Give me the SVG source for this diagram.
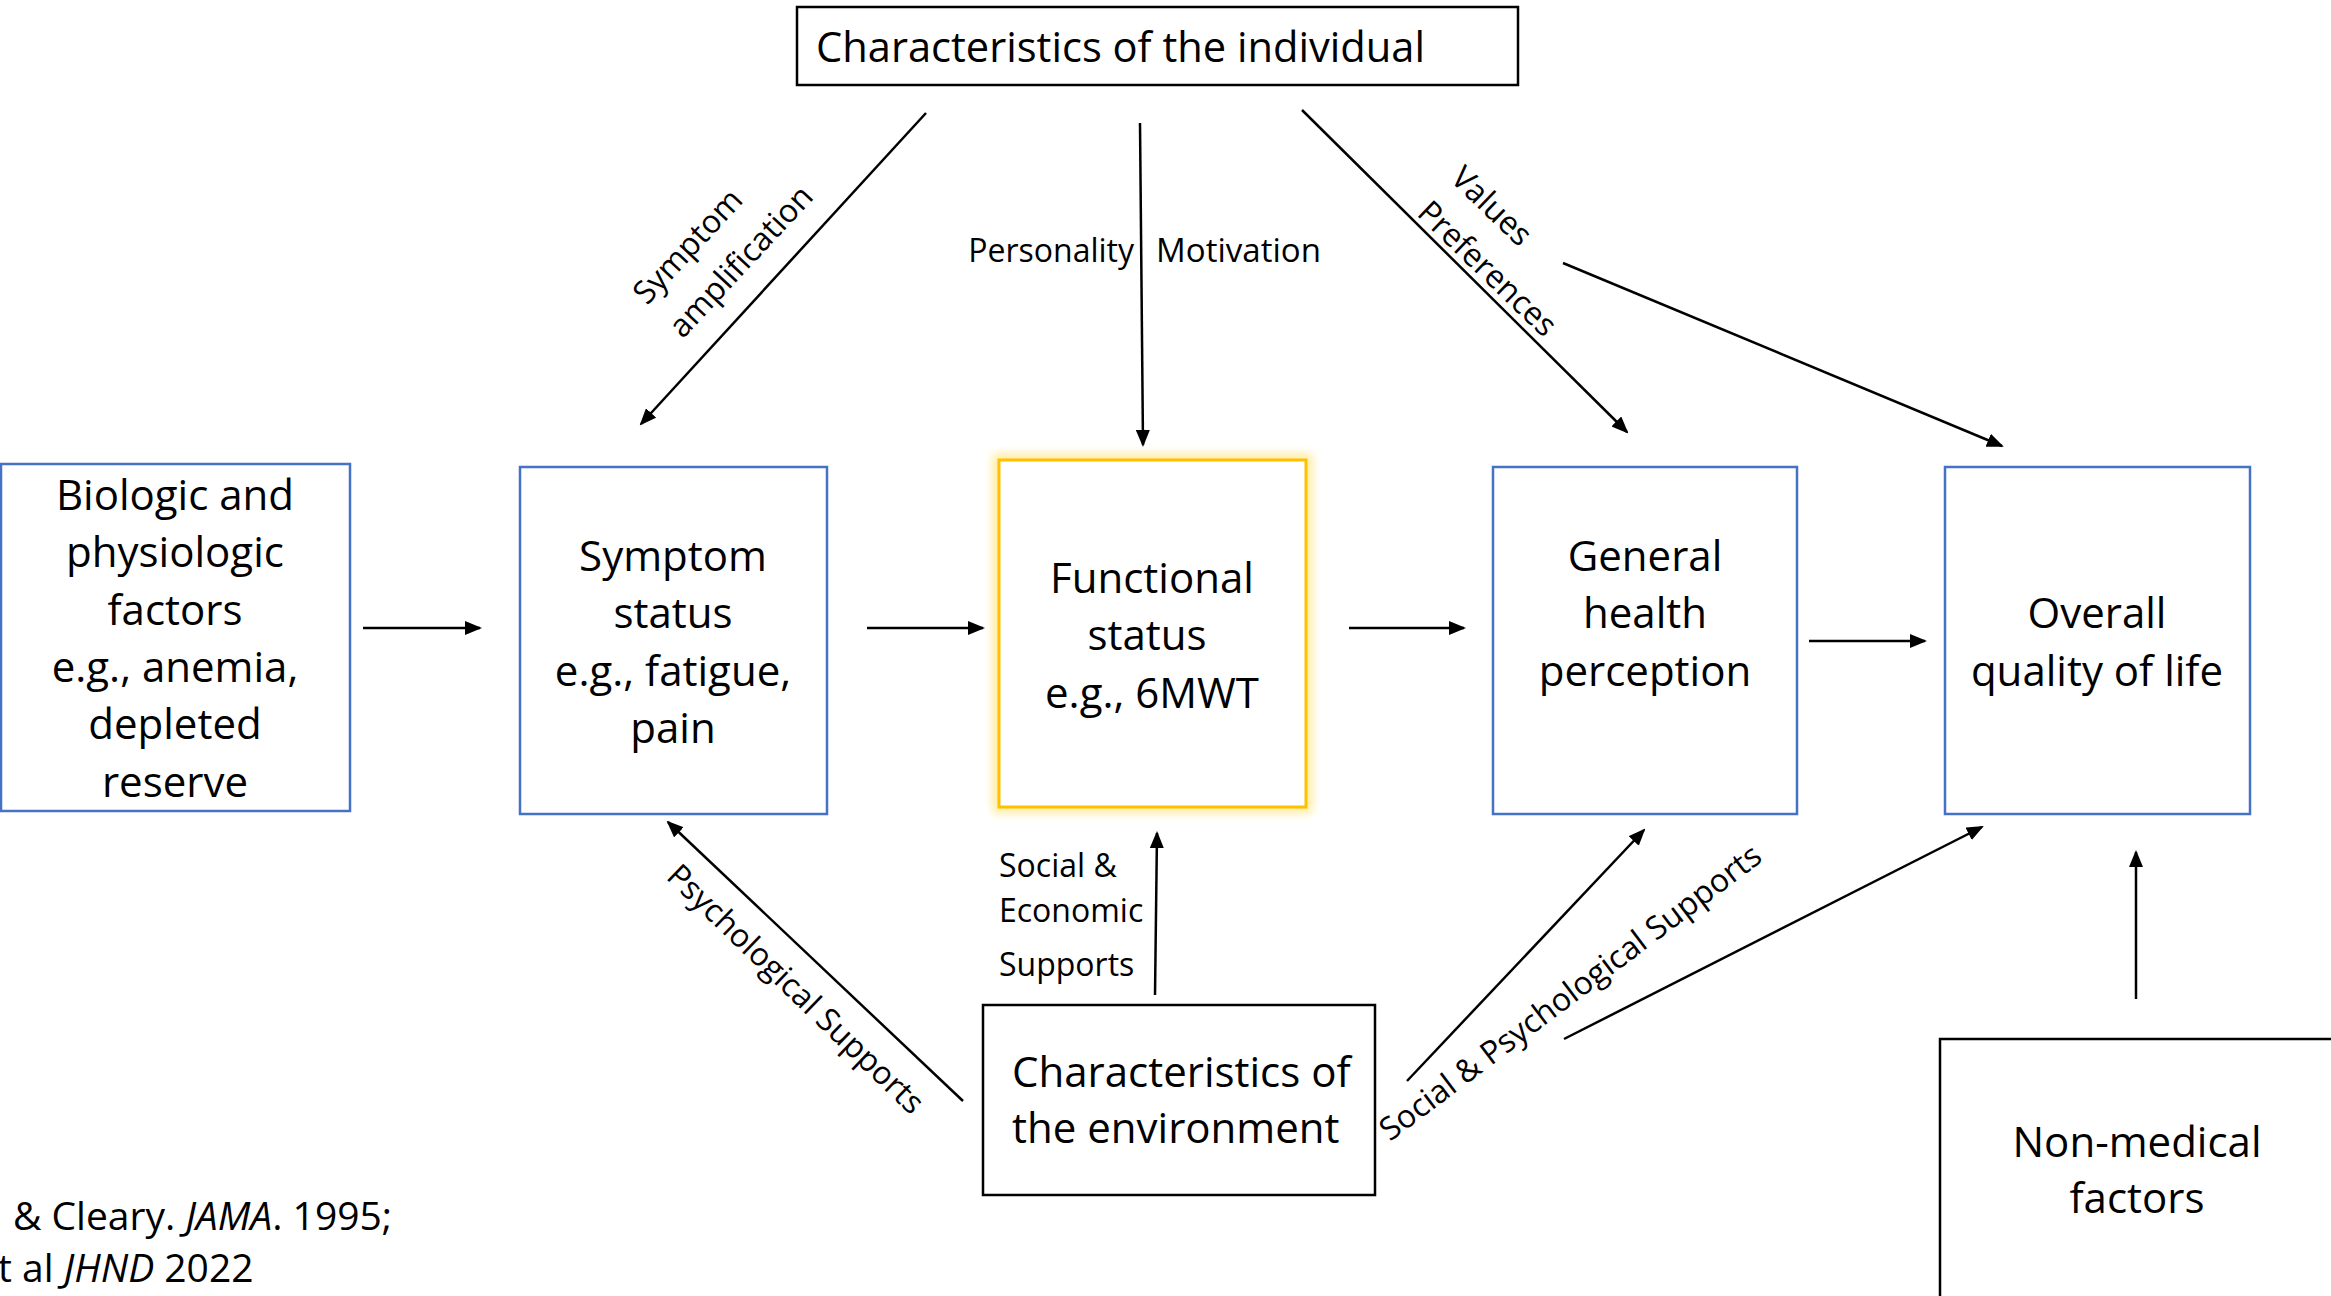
<svg xmlns="http://www.w3.org/2000/svg" width="2331" height="1296" viewBox="0 0 2331 1296">
  <style>
    text { font-family: "Open Sans", "Liberation Sans", sans-serif; fill: #000; }
    .box { font-size: 42px; }
    .lbl { font-size: 32px; }
    .cite { font-size: 39px; }
    .mid { text-anchor: middle; }
    .blue { fill: #fff; stroke: #4472C4; stroke-width: 2.5; }
    .plain { fill: #fff; stroke: #000; stroke-width: 2.5; }
    .gold { fill: #fff; stroke: #FFC000; stroke-width: 3; }
    .arrow { fill: none; stroke: #000; stroke-width: 2.5; marker-end: url(#head); }
  </style>
  <defs>
    <marker id="head" viewBox="0 0 17 14" refX="15" refY="7" markerWidth="17" markerHeight="14" markerUnits="userSpaceOnUse" orient="auto">
      <path d="M0,0 L17,7 L0,14 z" fill="#000"/>
    </marker>
    <filter id="glow" x="-10%" y="-10%" width="120%" height="120%">
      <feGaussianBlur stdDeviation="5"/>
    </filter>
  </defs>

  <rect width="2331" height="1296" fill="#fff"/>

  <!-- Connectors -->
  <g id="connectors">
    <line class="arrow" x1="363" y1="628" x2="480" y2="628"/>
    <line class="arrow" x1="867" y1="628" x2="983" y2="628"/>
    <line class="arrow" x1="1349" y1="628" x2="1464" y2="628"/>
    <line class="arrow" x1="1809" y1="641" x2="1925" y2="641"/>
    <line class="arrow" x1="926" y1="113" x2="641" y2="424"/>
    <line class="arrow" x1="1140" y1="123" x2="1143" y2="445"/>
    <line class="arrow" x1="1302" y1="110" x2="1627" y2="432"/>
    <line class="arrow" x1="1563" y1="263" x2="2002" y2="446"/>
    <line class="arrow" x1="963" y1="1101" x2="668" y2="822"/>
    <line class="arrow" x1="1155" y1="995" x2="1157" y2="833"/>
    <line class="arrow" x1="1407" y1="1081" x2="1644" y2="830"/>
    <line class="arrow" x1="1564" y1="1039" x2="1982" y2="827"/>
    <line class="arrow" x1="2136" y1="999" x2="2136" y2="852"/>

    <!-- connector labels -->
    <g transform="translate(647,306) rotate(-47)">
      <text class="lbl" x="0" y="0">Symptom</text>
      <text class="lbl" x="0" y="49">amplification</text>
    </g>
    <text class="lbl" x="1134" y="262" text-anchor="end">Personality</text>
    <text class="lbl" x="1156" y="262" textLength="165" lengthAdjust="spacingAndGlyphs">Motivation</text>
    <g transform="translate(1449,180) rotate(44)">
      <text class="lbl" x="0" y="0">Values</text>
      <text class="lbl" x="0" y="48">Preferences</text>
    </g>
    <text class="lbl" transform="translate(665,878) rotate(44)">Psychological Supports</text>
    <text class="lbl" x="999" y="877">Social &amp;</text>
    <text class="lbl" x="999" y="922">Economic</text>
    <text class="lbl" x="999" y="976">Supports</text>
    <text class="lbl" transform="translate(1390,1142) rotate(-37)">Social &amp; Psychological Supports</text>
  </g>

  <!-- Nodes -->
  <g id="individual">
    <rect class="plain" x="797" y="7" width="721" height="78"/>
    <text class="box" x="816" y="62" textLength="609" lengthAdjust="spacingAndGlyphs">Characteristics of the individual</text>
  </g>

  <g id="biologic">
    <rect class="blue" x="1" y="464" width="349" height="347"/>
    <text class="box mid" x="175" y="510">Biologic and</text>
    <text class="box mid" x="175" y="567">physiologic</text>
    <text class="box mid" x="175" y="625">factors</text>
    <text class="box mid" x="175" y="682">e.g., anemia,</text>
    <text class="box mid" x="175" y="739">depleted</text>
    <text class="box mid" x="175" y="797">reserve</text>
  </g>

  <g id="symptom">
    <rect class="blue" x="520" y="467" width="307" height="347"/>
    <text class="box mid" x="673" y="571">Symptom</text>
    <text class="box mid" x="673" y="628">status</text>
    <text class="box mid" x="673" y="686">e.g., fatigue,</text>
    <text class="box mid" x="673" y="743">pain</text>
  </g>

  <g id="functional">
    <rect x="999" y="460" width="307" height="347" fill="none" stroke="#FFE680" stroke-width="12" opacity="0.8" filter="url(#glow)"/>
    <rect class="gold" x="999" y="460" width="307" height="347"/>
    <text class="box mid" x="1152" y="593">Functional</text>
    <text class="box mid" x="1147" y="650">status</text>
    <text class="box mid" x="1152" y="708">e.g., 6MWT</text>
  </g>

  <g id="general">
    <rect class="blue" x="1493" y="467" width="304" height="347"/>
    <text class="box mid" x="1645" y="571">General</text>
    <text class="box mid" x="1645" y="628">health</text>
    <text class="box mid" x="1645" y="686">perception</text>
  </g>

  <g id="overall">
    <rect class="blue" x="1945" y="467" width="305" height="347"/>
    <text class="box mid" x="2097" y="628">Overall</text>
    <text class="box mid" x="2097" y="686">quality of life</text>
  </g>

  <g id="environment">
    <rect class="plain" x="983" y="1005" width="392" height="190"/>
    <text class="box" x="1012" y="1087">Characteristics of</text>
    <text class="box" x="1012" y="1143">the environment</text>
  </g>

  <g id="nonmedical">
    <rect class="plain" x="1940" y="1039" width="420" height="300"/>
    <text class="box mid" x="2137" y="1157">Non-medical</text>
    <text class="box mid" x="2137" y="1213">factors</text>
  </g>

  <!-- citation -->
  <g id="citation">
    <text class="cite" x="13" y="1230">&amp; Cleary. <tspan font-style="italic">JAMA</tspan>. 1995;</text>
    <text class="cite" x="-2" y="1282">t al <tspan font-style="italic">JHND</tspan> 2022</text>
  </g>
</svg>
